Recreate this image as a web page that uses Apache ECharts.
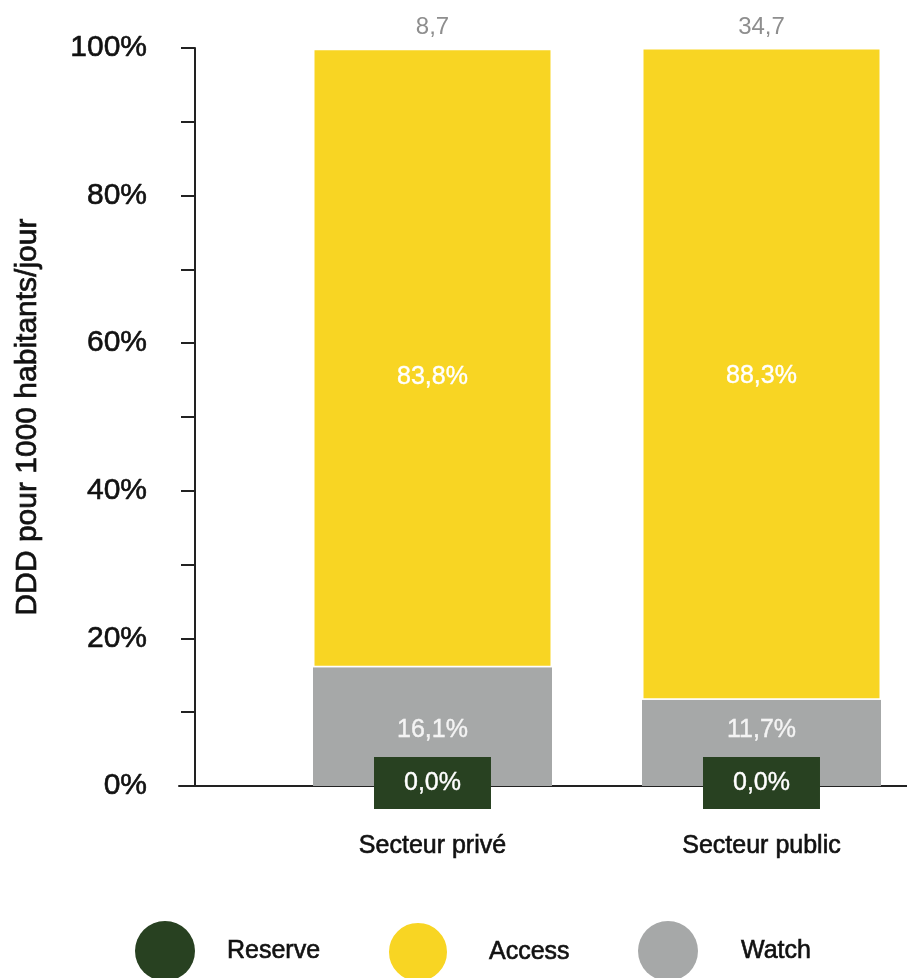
<!DOCTYPE html>
<html>
<head>
<meta charset="utf-8">
<script src="https://cdn.jsdelivr.net/npm/echarts@6/dist/echarts.min.js"></script>
<style>
  html, body { margin: 0; padding: 0; background: #fff; }
  #chart { width: 907px; height: 978px; }
</style>
</head>
<body>
<div id="chart"></div>
<script>
// Share of DDD per AWaRe group, by sector
const categories = ['Secteur privé', 'Secteur public'];
const reserve = [0.0, 0.0];
const watch = [16.1, 11.7];
const access = [83.8, 88.3];
const totals = [8.7, 34.7];   // DDD pour 1000 habitants/jour
const yTickLabels = [0, 20, 40, 60, 80, 100];
const groups = ['Reserve', 'Access', 'Watch'];

const FONT = "'Liberation Sans', Arial, Helvetica, sans-serif";
const GREEN = '#284121';
const YELLOW = '#F8D523';
const GREY = '#A6A8A8';
const INK = '#111';

const fmtPct = v => v.toFixed(1).replace('.', ',') + '%';
const fmtNum = v => v.toFixed(1).replace('.', ',');

// a slightly heavier stroke gives the medium-weight look of the labels
const heavy = (color, w) => ({ textBorderColor: color, textBorderWidth: w });

const chart = echarts.init(document.getElementById('chart'));

// one legend block per AWaRe group, each at its own column
const legendCols = [
  { left: 135, pad: 27 },
  { left: 387, pad: 36 },
  { left: 638, pad: 38 }
];
const legends = groups.map((g, i) => ({
  data: [g],
  left: legendCols[i].left, top: 921,
  padding: 0,
  icon: 'circle',
  itemWidth: 60, itemHeight: 60,
  selectedMode: false,
  textStyle: Object.assign({
    fontSize: 25, color: INK, fontFamily: FONT,
    padding: [0, 0, 0, legendCols[i].pad]
  }, heavy(INK, 0.6))
}));

chart.setOption({
  animation: false,
  backgroundColor: '#fff',
  textStyle: { fontFamily: FONT },
  grid: [
    { left: 268, top: 48, width: 658, height: 738, outerBoundsMode: 'none', containLabel: false },
    { left: 179, top: 48, right: 0, height: 738, outerBoundsMode: 'none', containLabel: false }
  ],
  xAxis: [
    {
      type: 'category',
      gridIndex: 0,
      data: categories,
      axisLine: { show: false },
      axisTick: { show: false },
      axisLabel: Object.assign({ margin: 48, fontSize: 25, color: INK, fontFamily: FONT }, heavy(INK, 0.6))
    },
    {
      type: 'value',
      gridIndex: 1,
      min: 0, max: 1,
      axisLine: { show: true, lineStyle: { color: '#222', width: 2 } },
      axisTick: { show: false },
      axisLabel: { show: false },
      splitLine: { show: false }
    }
  ],
  yAxis: [
    {
      type: 'value',
      gridIndex: 0,
      min: 0, max: 100, interval: 10,
      offset: 73,
      name: 'DDD pour 1000 habitants/jour',
      nameLocation: 'middle',
      nameGap: 152,
      nameTextStyle: Object.assign({ fontSize: 30, color: INK, fontFamily: FONT }, heavy(INK, 0.7)),
      axisLine: { show: true, lineStyle: { color: '#222', width: 2 } },
      axisTick: { show: true, length: 14, lineStyle: { color: '#222', width: 2 } },
      axisLabel: Object.assign({
        margin: 48, fontSize: 30, color: INK, fontFamily: FONT,
        padding: [6, 0, 0, 0],
        formatter: v => (yTickLabels.indexOf(v) >= 0 ? v + '%' : '')
      }, heavy(INK, 0.6)),
      splitLine: { show: false }
    },
    {
      type: 'value',
      gridIndex: 1,
      min: 0, max: 100,
      show: false
    }
  ],
  legend: legends,
  series: [
    {
      name: 'Reserve', type: 'bar', stack: 'aware', barWidth: 239, z: 4,
      data: reserve,
      itemStyle: { color: GREEN },
      label: Object.assign({
        show: true, position: 'inside', offset: [0, -3],
        formatter: p => fmtPct(p.value),
        color: '#fff', fontSize: 25, fontFamily: FONT,
        backgroundColor: GREEN, padding: [13, 30, 14, 30]
      }, heavy('#fff', 0.4))
    },
    {
      name: 'Watch', type: 'bar', stack: 'aware', barWidth: 239,
      data: watch,
      itemStyle: { color: GREY },
      label: Object.assign({
        show: true, position: 'insideBottom', distance: 43,
        formatter: p => fmtPct(p.value),
        color: '#f4f4f4', fontSize: 25, fontFamily: FONT
      }, heavy('#f4f4f4', 0.4))
    },
    {
      name: 'Access', type: 'bar', stack: 'aware', barWidth: 239,
      data: access,
      itemStyle: { color: YELLOW, borderColor: '#fff', borderWidth: 1.5 },
      label: Object.assign({
        show: true, position: 'insideTop', distance: 316,
        formatter: p => fmtPct(p.value),
        color: '#fff', fontSize: 25, fontFamily: FONT
      }, heavy('#fff', 0.4))
    },
    {
      name: 'Total', type: 'bar', stack: 'aware', barWidth: 239,
      data: totals.map(() => 0),
      itemStyle: { color: 'transparent' },
      label: {
        show: true, position: 'top', distance: 9,
        formatter: p => fmtNum(totals[p.dataIndex]),
        color: '#8e8e8e', fontSize: 24, fontFamily: FONT
      }
    }
  ]
});
</script>
</body>
</html>
